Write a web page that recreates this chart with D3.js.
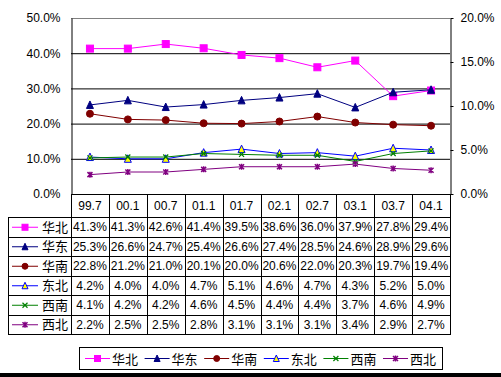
<!DOCTYPE html>
<html>
<head>
<meta charset="utf-8">
<script src="https://cdn.jsdelivr.net/npm/d3@7"></script>
<style>
  body { margin: 0; background: #fff; }
  text { font-family: Arial, "Liberation Sans", "Noto Sans CJK SC", sans-serif; }
</style>
</head>
<body>
<div id="chart"></div>
<script>
// categories (x axis / table header)
var categories = ["99.7", "00.1", "00.7", "01.1", "01.7", "02.1", "02.7", "03.1", "03.7", "04.1"];

// series values in percent
var huabei  = [41.3, 41.3, 42.6, 41.4, 39.5, 38.6, 36.0, 37.9, 27.8, 29.4];
var huadong = [25.3, 26.6, 24.7, 25.4, 26.6, 27.4, 28.5, 24.6, 28.9, 29.6];
var huanan  = [22.8, 21.2, 21.0, 20.1, 20.0, 20.6, 22.0, 20.3, 19.7, 19.4];
var dongbei = [4.2, 4.0, 4.0, 4.7, 5.1, 4.6, 4.7, 4.3, 5.2, 5.0];
var xinan   = [4.1, 4.2, 4.2, 4.6, 4.5, 4.4, 4.4, 3.7, 4.6, 4.9];
var xibei   = [2.2, 2.5, 2.5, 2.8, 3.1, 3.1, 3.1, 3.4, 2.9, 2.7];

var leftTicks = [0, 10, 20, 30, 40, 50];
var rightTicks = [0, 5, 10, 15, 20];

// series table: name, values, axis, colour, marker
var series = [
  {name: "华北", values: huabei,  axis: "left",  color: "#ff00ff", marker: "square"},
  {name: "华东", values: huadong, axis: "left",  color: "#000080", marker: "triangle"},
  {name: "华南", values: huanan,  axis: "left",  color: "#800000", marker: "circle"},
  {name: "东北", values: dongbei, axis: "right", color: "#0000ff", marker: "opentri"},
  {name: "西南", values: xinan,   axis: "right", color: "#008000", marker: "cross"},
  {name: "西北", values: xibei,   axis: "right", color: "#800080", marker: "star"}
];

var W = 501, H = 377;
var plot = {left: 71, right: 450, top: 18, bottom: 194};
var tableLeft = 8, headerH = 23, rowH = 19.5;

var svg = d3.select("#chart").append("svg")
    .attr("width", W)
    .attr("height", H);

// scales
var x = d3.scaleBand()
    .domain(categories)
    .range([plot.left, plot.right]);
var yL = d3.scaleLinear().domain([0, 50]).range([plot.bottom, plot.top]);
var yR = d3.scaleLinear().domain([0, 20]).range([plot.bottom, plot.top]);

function fmt(v) { return v.toFixed(1) + "%"; }

// gridlines
svg.append("g")
  .selectAll("line")
  .data(leftTicks.slice(1))
  .enter().append("line")
    .attr("x1", plot.left).attr("x2", plot.right)
    .attr("y1", function(d) { return yL(d) + 0.5; })
    .attr("y2", function(d) { return yL(d) + 0.5; })
    .style("stroke", function(d) { return d == 50 ? "#808080" : "#000"; })
    .style("stroke-width", 1);

// left axis
var leftAxis = svg.append("g")
    .attr("transform", "translate(" + (plot.left + 0.5) + ",0)")
    .call(d3.axisLeft(yL).tickValues(leftTicks).tickFormat(fmt).tickSize(0).tickPadding(11));
leftAxis.select(".domain").style("stroke", "#000");
leftAxis.selectAll("text").style("font-size", "12px").style("fill", "#000");

// right axis
var rightAxis = svg.append("g")
    .attr("transform", "translate(" + (plot.right + 0.5) + ",0)")
    .call(d3.axisRight(yR).tickValues(rightTicks).tickFormat(fmt).tickSize(3).tickSizeOuter(0).tickPadding(7));
rightAxis.selectAll("line, .domain").style("stroke", "#000");
rightAxis.selectAll("text").style("font-size", "12px").style("fill", "#000");

// marker drawing
function drawMarker(g, type, color, size) {
  var s = size / 2;
  if (type == "square") {
    g.append("rect").attr("x", -s).attr("y", -s).attr("width", size).attr("height", size)
      .style("fill", color).style("stroke", color);
  } else if (type == "triangle") {
    g.append("path").attr("d", "M0," + (-s - 0.5) + "L" + s + "," + s + "L" + (-s) + "," + s + "Z")
      .style("fill", color).style("stroke", color);
  } else if (type == "opentri") {
    g.append("path").attr("d", "M0," + (-s - 0.5) + "L" + s + "," + s + "L" + (-s) + "," + s + "Z")
      .style("fill", "#ffff00").style("stroke", color);
  } else if (type == "circle") {
    g.append("circle").attr("r", s).style("fill", color).style("stroke", color);
  } else if (type == "cross") {
    g.append("path").attr("d", "M-2.5,-2.5L2.5,2.5M2.5,-2.5L-2.5,2.5")
      .style("stroke", color).style("stroke-width", 1.2).style("fill", "none");
  } else if (type == "star") {
    g.append("path").attr("d", "M-2.5,-2.5L2.5,2.5M2.5,-2.5L-2.5,2.5M0,-3L0,3")
      .style("stroke", color).style("stroke-width", 1.5).style("fill", "none");
  }
}

// lines and markers
series.forEach(function(s) {
  var y = s.axis == "left" ? yL : yR;
  var line = d3.line()
    .x(function(d, i) { return x(categories[i]) + x.bandwidth() / 2; })
    .y(function(d) { return y(d); });

  svg.append("path")
    .attr("d", line(s.values))
    .style("fill", "none")
    .style("stroke", s.color)
    .style("stroke-width", 1);

  svg.append("g").selectAll("g")
    .data(s.values)
    .enter().append("g")
      .attr("transform", function(d, i) {
        return "translate(" + (x(categories[i]) + x.bandwidth() / 2) + "," + y(d) + ")";
      })
      .each(function() { drawMarker(d3.select(this), s.marker, s.color, 7); });
});

// data table
var table = svg.append("g");
var tableBottom = plot.bottom + headerH + rowH * series.length;

// header cells
table.selectAll(".head")
  .data(categories)
  .enter().append("text")
    .attr("x", function(d) { return x(d) + x.bandwidth() / 2; })
    .attr("y", plot.bottom + headerH / 2 + 4)
    .attr("text-anchor", "middle")
    .style("font-size", "12px")
    .text(function(d) { return d; });

// vertical lines
var vx = categories.map(function(d) { return x(d); }).concat([plot.right]);
table.selectAll(".v")
  .data(vx)
  .enter().append("line")
    .attr("x1", function(d) { return Math.round(d) + 0.5; })
    .attr("x2", function(d) { return Math.round(d) + 0.5; })
    .attr("y1", plot.bottom)
    .attr("y2", tableBottom)
    .style("stroke", "#000");

table.append("line")
  .attr("x1", tableLeft + 0.5).attr("x2", tableLeft + 0.5)
  .attr("y1", plot.bottom + headerH).attr("y2", tableBottom)
  .style("stroke", "#000");

// horizontal lines
var hy = d3.range(series.length + 1).map(function(i) { return plot.bottom + headerH + i * rowH; });
table.selectAll(".h")
  .data(hy)
  .enter().append("line")
    .attr("x1", tableLeft)
    .attr("x2", plot.right + 1)
    .attr("y1", function(d) { return Math.round(d) + 0.5; })
    .attr("y2", function(d) { return Math.round(d) + 0.5; })
    .style("stroke", "#000");
table.append("line")
  .attr("x1", plot.left).attr("x2", plot.right)
  .attr("y1", plot.bottom + 0.5).attr("y2", plot.bottom + 0.5)
  .style("stroke", "#000");

// rows
series.forEach(function(s, r) {
  var cy = plot.bottom + headerH + r * rowH + rowH / 2;
  var key = table.append("g").attr("transform", "translate(0," + cy + ")");
  key.append("line").attr("x1", 12).attr("x2", 38).attr("y1", 0.5).attr("y2", 0.5)
    .style("stroke", s.color);
  var m = key.append("g").attr("transform", "translate(25,0.5)");
  drawMarker(m, s.marker, s.color, 6);
  key.append("text").attr("x", 42).attr("y", 5).style("font-size", "13px").text(s.name);

  table.selectAll(".c" + r)
    .data(s.values)
    .enter().append("text")
      .attr("x", function(d, i) { return x(categories[i]) + x.bandwidth() / 2; })
      .attr("y", cy + 4.5)
      .attr("text-anchor", "middle")
      .style("font-size", "12px")
      .text(function(d) { return fmt(d); });
});

// legend
var legend = svg.append("g");
legend.append("rect")
  .attr("x", 79.5).attr("y", 347.5).attr("width", 363).attr("height", 22)
  .style("fill", "#fff").style("stroke", "#000");
series.forEach(function(s, i) {
  var lx = 85 + i * 59.6;
  var g = legend.append("g").attr("transform", "translate(" + lx + ",358.5)");
  g.append("line").attr("x1", 0).attr("x2", 25).style("stroke", s.color);
  var m = g.append("g").attr("transform", "translate(12.5,0)");
  drawMarker(m, s.marker, s.color, 6);
  g.append("text").attr("x", 27).attr("y", 5).style("font-size", "13px").text(s.name);
});

// bottom border band
svg.append("rect")
  .attr("x", 0).attr("y", 373).attr("width", W).attr("height", 4)
  .style("fill", "#000");
</script>
</body>
</html>
